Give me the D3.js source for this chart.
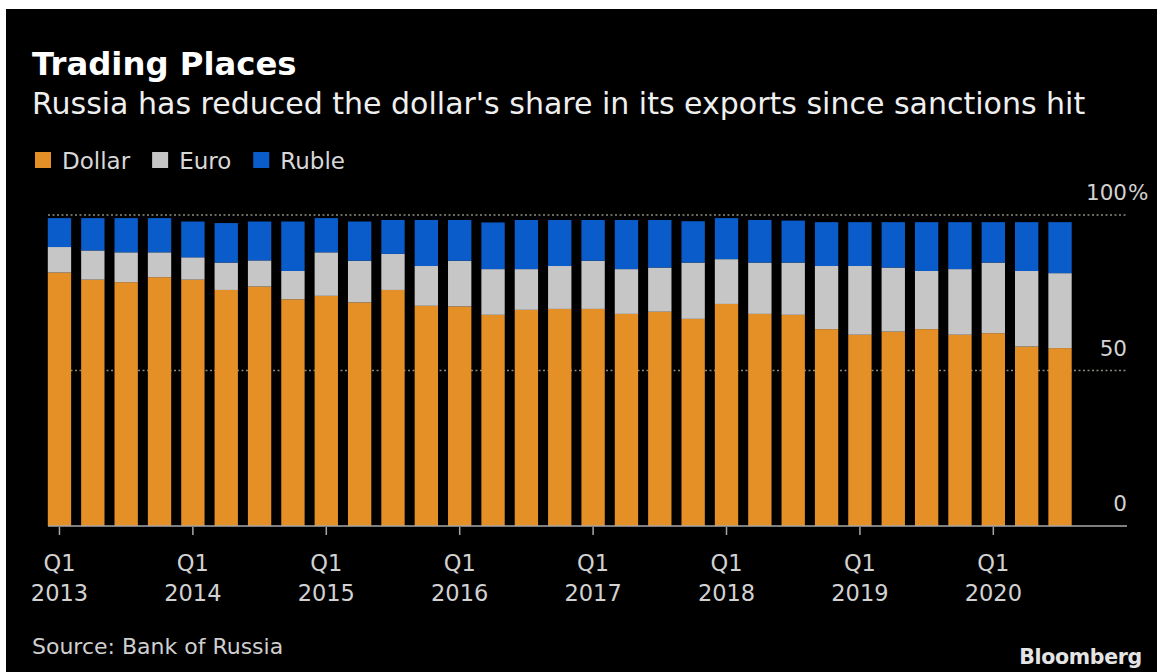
<!DOCTYPE html>
<html>
<head>
<meta charset="utf-8">
<script src="https://cdn.jsdelivr.net/npm/d3@7"></script>
<style>
  html, body { margin: 0; padding: 0; background: #ffffff; }
  svg { display: block; }
  text { font-family: "DejaVu Sans", sans-serif; }
</style>
</head>
<body>
<svg id="chart" width="1157" height="672"></svg>
<script>
const quarters = [
  "Q1 2013","Q2 2013","Q3 2013","Q4 2013",
  "Q1 2014","Q2 2014","Q3 2014","Q4 2014",
  "Q1 2015","Q2 2015","Q3 2015","Q4 2015",
  "Q1 2016","Q2 2016","Q3 2016","Q4 2016",
  "Q1 2017","Q2 2017","Q3 2017","Q4 2017",
  "Q1 2018","Q2 2018","Q3 2018","Q4 2018",
  "Q1 2019","Q2 2019","Q3 2019","Q4 2019",
  "Q1 2020","Q2 2020","Q3 2020"
];
const dollar = [81.5, 79.2, 78.4, 80.0, 79.2, 75.9, 77.0, 72.9, 74.0, 71.9, 75.9, 70.8, 70.6, 67.9, 69.5, 69.8,
                69.8, 68.2, 68.9, 66.6, 71.4, 68.2, 67.9, 63.3, 61.5, 62.5, 63.3, 61.5, 62.0, 57.7, 57.2];
const euro   = [8.2, 9.4, 9.6, 8.0, 7.2, 8.8, 8.4, 9.1, 14.0, 13.4, 11.6, 12.8, 14.7, 14.7, 13.1, 13.8,
                15.5, 14.4, 14.2, 18.1, 14.4, 16.5, 16.8, 20.3, 22.1, 20.6, 18.7, 21.1, 22.7, 24.3, 24.1];
const ruble  = [9.3, 10.4, 11.0, 11.0, 11.5, 12.7, 12.5, 15.9, 11.0, 12.6, 10.9, 14.8, 13.1, 15.0, 15.8, 14.8,
                13.1, 15.8, 15.3, 13.3, 13.2, 13.7, 13.5, 14.1, 14.1, 14.6, 15.7, 15.1, 13.0, 15.7, 16.4];
const seriesNames = ["Dollar", "Euro", "Ruble"];
const seriesColors = ["#E58F27", "#C6C6C6", "#0B5CCB"];
const yTicks = [0, 50, 100];
const xTickQuarters = ["Q1 2013","Q1 2014","Q1 2015","Q1 2016","Q1 2017","Q1 2018","Q1 2019","Q1 2020"];

const title = "Trading Places";
const subtitle = "Russia has reduced the dollar's share in its exports since sanctions hit";
const source = "Source: Bank of Russia";

const svg = d3.select("#chart");
// black panel with white strip on top/left
svg.append("rect").attr("x", 6).attr("y", 9).attr("width", 1151).attr("height", 663).attr("fill", "#000");

const rows = quarters.map((q, i) => ({ q, Dollar: dollar[i], Euro: euro[i], Ruble: ruble[i] }));
const stacked = d3.stack().keys(seriesNames)(rows);

const x = d3.scaleBand().domain(quarters).range([42.8, 1076.7]).paddingInner(0.3).paddingOuter(0.15);
const y = d3.scaleLinear().domain([0, 100]).range([526, 215]);
const color = d3.scaleOrdinal().domain(seriesNames).range(seriesColors);

const gridX0 = 48, gridX1 = 1127;

// gridlines (dotted)
svg.append("g").selectAll("line").data(yTicks.filter(d => d > 0)).join("line")
  .attr("x1", gridX0).attr("x2", gridX1)
  .attr("y1", d => y(d)).attr("y2", d => y(d))
  .attr("stroke", "#8f8a80").attr("stroke-width", 1.4)
  .attr("stroke-dasharray", "2,2.5");

// bars
svg.append("g").selectAll("g").data(stacked).join("g")
  .attr("fill", d => color(d.key))
  .selectAll("rect").data(d => d).join("rect")
  .attr("x", d => x(d.data.q))
  .attr("width", x.bandwidth())
  .attr("y", d => y(d[1]))
  .attr("height", d => y(d[0]) - y(d[1]));

// baseline
svg.append("line").attr("x1", gridX0).attr("x2", gridX1)
  .attr("y1", y(0)).attr("y2", y(0))
  .attr("stroke", "#a8a8a8").attr("stroke-width", 1.5);

// x ticks & labels
const xg = svg.append("g");
xg.selectAll("line").data(xTickQuarters).join("line")
  .attr("x1", d => x(d) + x.bandwidth() / 2).attr("x2", d => x(d) + x.bandwidth() / 2)
  .attr("y1", y(0) + 1).attr("y2", y(0) + 9)
  .attr("stroke", "#a8a8a8").attr("stroke-width", 1.5);
const xl = xg.selectAll("text").data(xTickQuarters).join("text")
  .attr("x", d => x(d) + x.bandwidth() / 2)
  .attr("text-anchor", "middle")
  .attr("fill", "#d2d2d2").attr("font-size", 22.5);
xl.append("tspan").attr("x", d => x(d) + x.bandwidth() / 2).attr("y", 571).text(d => d.split(" ")[0]);
xl.append("tspan").attr("x", d => x(d) + x.bandwidth() / 2).attr("y", 601).text(d => d.split(" ")[1]);

// y labels
const yl = svg.append("g").selectAll("g").data(yTicks).join("g");
yl.append("text")
  .attr("x", gridX1).attr("y", d => y(d) - 15)
  .attr("text-anchor", "end").attr("fill", "#d2d2d2").attr("font-size", 21.5)
  .text(d => d);
yl.filter(d => d === 100).append("text")
  .attr("x", gridX1 + 1).attr("y", d => y(d) - 15)
  .attr("fill", "#d2d2d2").attr("font-size", 21.5)
  .text("%");

// titles
svg.append("text").attr("x", 32).attr("y", 75)
  .attr("fill", "#ffffff").attr("font-size", 32.3).attr("font-weight", "bold").text(title);
svg.append("text").attr("x", 32).attr("y", 114)
  .attr("fill", "#efefef").attr("font-size", 30).text(subtitle);

// legend
const lg = svg.append("g");
let lx = 35;
seriesNames.forEach((name, i) => {
  lg.append("rect").attr("x", lx).attr("y", 152).attr("width", 16).attr("height", 16).attr("fill", seriesColors[i]);
  const t = lg.append("text").attr("x", lx + 27).attr("y", 169)
    .attr("fill", "#d8d8d8").attr("font-size", 23).text(name);
  lx = lx + 27 + t.node().getComputedTextLength() + 22;
});

// source & logo
svg.append("text").attr("x", 32).attr("y", 654)
  .attr("fill", "#cfcfcf").attr("font-size", 22).text(source);
svg.append("text").attr("x", 1142).attr("y", 664)
  .attr("text-anchor", "end").attr("fill", "#e4e4e4")
  .attr("font-size", 20.5).attr("font-weight", "bold").attr("letter-spacing", -0.3).text("Bloomberg");
</script>
</body>
</html>
